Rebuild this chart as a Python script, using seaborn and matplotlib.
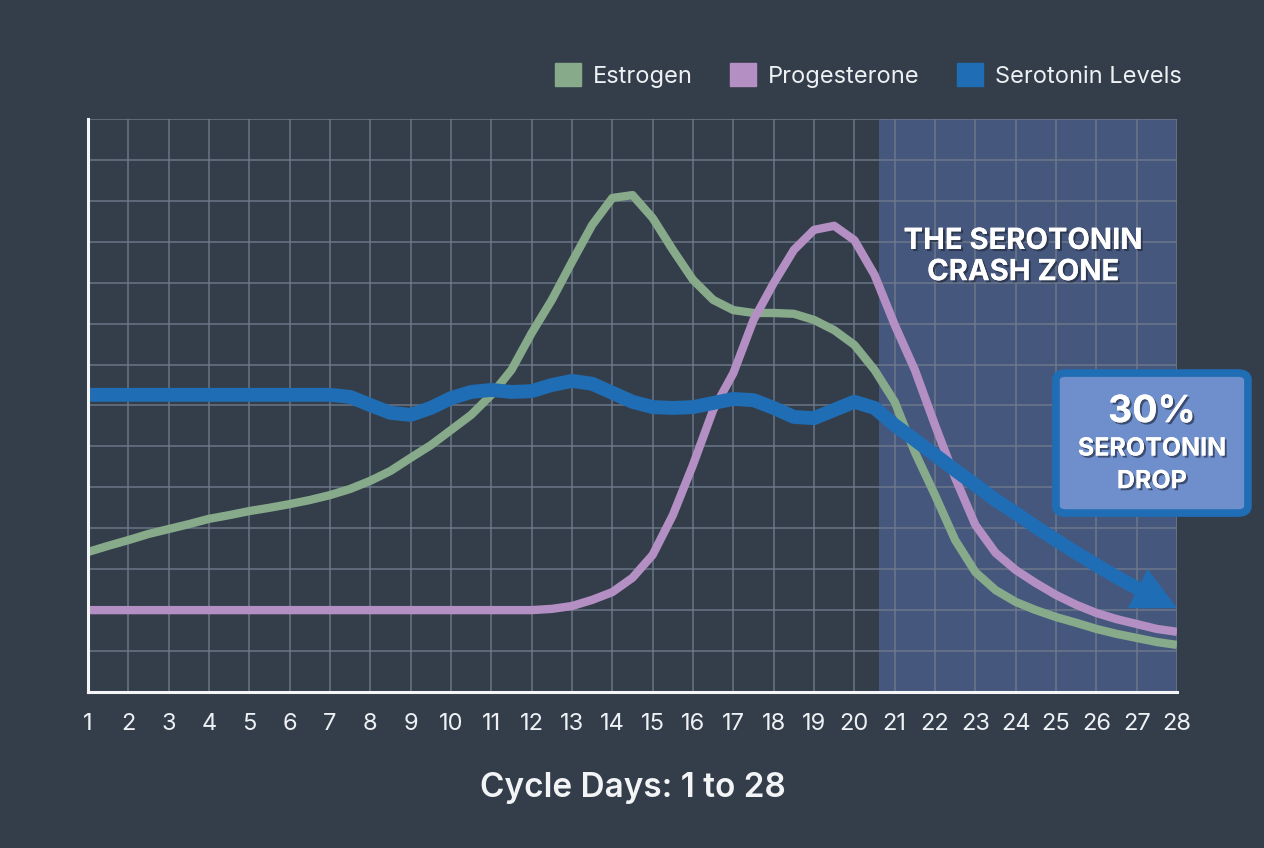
import numpy as np
import pandas as pd
import matplotlib
matplotlib.use('Agg')
import matplotlib.pyplot as plt
import matplotlib.patheffects as pe
from matplotlib.patches import FancyBboxPatch, Patch
import seaborn as sns

# cycle days, read every half day
days = np.arange(1, 28.5, 0.5)

estrogen = [3.42, 3.57, 3.71, 3.86, 3.98, 4.10, 4.23, 4.32, 4.42, 4.50,
            4.59, 4.69, 4.81, 4.96, 5.16, 5.40, 5.72, 6.03, 6.40, 6.77,
            7.26, 7.87, 8.77, 9.58, 10.51, 11.41, 12.07, 12.14, 11.58, 10.80,
            10.07, 9.58, 9.33, 9.26, 9.26, 9.24, 9.09, 8.84, 8.48, 7.87,
            7.09, 5.86, 4.81, 3.71, 2.93, 2.49, 2.20, 2.00, 1.83, 1.69,
            1.54, 1.42, 1.32, 1.22, 1.15]

progesterone = [2.00] * 23 + [2.03, 2.10, 2.25, 2.44, 2.79, 3.35, 4.32,
            5.55, 6.89, 7.79, 9.09, 9.99, 10.80, 11.29, 11.39, 11.04, 10.19,
            8.97, 7.87, 6.52, 5.23, 4.08, 3.40, 2.98, 2.66, 2.37, 2.13,
            1.93, 1.78, 1.66, 1.54, 1.47]

serotonin = [7.26] * 13 + [7.21, 7.01, 6.82, 6.77, 6.94, 7.18, 7.33, 7.38,
             7.33, 7.35, 7.50, 7.60, 7.53, 7.31, 7.09, 6.96, 6.94, 6.96, 7.06,
             7.16, 7.13, 6.94, 6.72, 6.69, 6.89, 7.09, 6.94, 6.52, 6.16,
             5.79, 5.42, 5.06, 4.69, 4.37, 4.03, 3.71, 3.40, 3.10, 2.81,
             2.54, 2.30, 2.05]

series_names = ['Estrogen', 'Progesterone', 'Serotonin Levels']
colors = ['#86aa8a', '#b48fc4', '#1f6db5']
crash_start = 20.6

bg = '#343e4b'
sns.set_theme(style='white')
plt.rcParams['font.family'] = ['Inter', 'DejaVu Sans']

fig = plt.figure(figsize=(12.64, 8.48), dpi=100, facecolor=bg)
ax = fig.add_axes([0.0696, 0.184, 0.8616, 0.6757])
ax.set_facecolor(bg)

df_e = pd.DataFrame({'day': days, 'level': estrogen})
df_p = pd.DataFrame({'day': days, 'level': progesterone})
df_s = pd.DataFrame({'day': days[:-1], 'level': serotonin[:-1]})

ax.axvspan(crash_start, days[-1], color='#46577e', zorder=0.2, lw=0)

sns.lineplot(data=df_e, x='day', y='level', ax=ax, color=colors[0], lw=6,
             solid_capstyle='butt', solid_joinstyle='round', zorder=3)
sns.lineplot(data=df_p, x='day', y='level', ax=ax, color=colors[1], lw=6,
             solid_capstyle='butt', solid_joinstyle='round', zorder=3)
sns.lineplot(data=df_s, x='day', y='level', ax=ax, color=colors[2], lw=10,
             solid_capstyle='butt', solid_joinstyle='round', zorder=4)
ax.annotate('', xy=(days[-1], serotonin[-1]), xytext=(days[-3], serotonin[-3]),
            arrowprops=dict(arrowstyle='-|>,head_length=1.5,head_width=0.75',
                            mutation_scale=20, color=colors[2], lw=1,
                            shrinkA=0, shrinkB=0), zorder=5)

ax.set_xlim(days[0], days[-1])
ax.set_ylim(0, 14)
ax.set_xticks(np.arange(1, 29))
ax.set_xticklabels([str(d) for d in range(1, 29)])
ax.set_yticks(np.arange(0, 15))
ax.set_yticklabels([])
ax.grid(True, color='#6f7b8b', lw=1.1, alpha=0.9)
ax.set_axisbelow(True)
ax.tick_params(axis='x', length=0, pad=15, labelsize=17, labelcolor='#eef1f4')
ax.tick_params(axis='y', length=0)
for s in ['top', 'right']:
    ax.spines[s].set_visible(False)
for s in ['left', 'bottom']:
    ax.spines[s].set_color('#f4f5f7')
    ax.spines[s].set_linewidth(2.2)
    ax.spines[s].set_zorder(6)
ax.set_xlabel('Cycle Days: 1 to 28', fontsize=24, fontweight='semibold',
              color='#f2f4f6', labelpad=27)
ax.set_ylabel('')

shadow = [pe.withSimplePatchShadow(offset=(1.5, -1.5), shadow_rgbFace='#1a2030', alpha=0.6), pe.Normal()]
ax.text(0.8586, 0.759, 'THE SEROTONIN\nCRASH ZONE', transform=ax.transAxes,
        ha='center', va='center', fontsize=21, fontweight='bold', color='white',
        linespacing=1.2, path_effects=shadow, zorder=7)

# callout box
box = FancyBboxPatch((0.8354, 0.395), 0.1519, 0.1651, transform=fig.transFigure,
                     boxstyle='round,pad=0,rounding_size=0.008',
                     facecolor='#6f8fcc', edgecolor=colors[2], lw=5.5, zorder=10)
fig.patches.append(box)
fig.text(0.9113, 0.514, '30%', ha='center', va='center', fontsize=27,
         fontweight='bold', color='white', path_effects=shadow, zorder=11)
fig.text(0.9113, 0.4705, 'SEROTONIN', ha='center', va='center', fontsize=18,
         fontweight='bold', color='white', path_effects=shadow, zorder=11)
fig.text(0.9113, 0.432, 'DROP', ha='center', va='center', fontsize=18,
         fontweight='bold', color='white', path_effects=shadow, zorder=11)

handles = [Patch(facecolor=c, edgecolor=c) for c in colors]
fig.legend(handles, series_names, loc='center right', bbox_to_anchor=(0.935, 0.911),
           ncol=3, frameon=False, fontsize=17, labelcolor='#eef1f4',
           handlelength=1.1, handleheight=1.1, handletextpad=0.5,
           columnspacing=1.6, borderpad=0, borderaxespad=0)

fig.savefig('out.png', dpi=100, facecolor=bg)
